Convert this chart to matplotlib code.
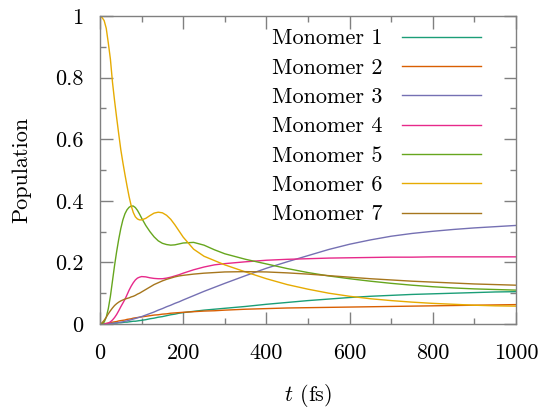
import matplotlib
matplotlib.use('Agg')
import matplotlib.pyplot as plt
from matplotlib.ticker import MultipleLocator

plt.rcParams['font.family'] = 'serif'
plt.rcParams['font.serif'] = ['cmr10']
plt.rcParams['mathtext.fontset'] = 'cm'
plt.rcParams['axes.formatter.use_mathtext'] = True

# time axis (fs)
t = [0, 5, 10, 15, 20, 25, 30, 35, 40, 45, 50, 55, 60, 65, 70, 75, 80, 85, 90, 95, 100,
     110, 120, 130, 140, 150, 160, 170, 180, 190, 200,
     225, 250, 275, 300,
     350, 400, 450, 500, 550, 600, 650, 700, 750, 800, 850, 900, 950, 1000]

m1 = [0, 0, 0, 0.001, 0.001, 0.002, 0.002, 0.003, 0.003, 0.004, 0.004, 0.005, 0.006,
      0.006, 0.007, 0.008, 0.009, 0.009, 0.010, 0.011, 0.012,
      0.014, 0.017, 0.019, 0.022, 0.024, 0.027, 0.030, 0.032, 0.035, 0.037,
      0.041, 0.045, 0.048, 0.051,
      0.057, 0.064, 0.070, 0.076, 0.081, 0.086, 0.090, 0.093, 0.096, 0.098, 0.100,
      0.102, 0.104, 0.105]
m2 = [0, 0, 0.001, 0.002, 0.003, 0.004, 0.006, 0.007, 0.008, 0.010, 0.011, 0.012, 0.013,
      0.015, 0.016, 0.017, 0.019, 0.020, 0.021, 0.022, 0.023,
      0.025, 0.027, 0.029, 0.030, 0.032, 0.033, 0.035, 0.036, 0.037, 0.038,
      0.040, 0.042, 0.043, 0.045,
      0.048, 0.050, 0.052, 0.053, 0.054, 0.055, 0.056, 0.057, 0.058, 0.059, 0.060,
      0.061, 0.062, 0.063]
m3 = [0, 0, 0, 0.001, 0.001, 0.002, 0.002, 0.003, 0.004, 0.005, 0.006, 0.007, 0.009,
      0.010, 0.012, 0.014, 0.016, 0.018, 0.020, 0.022, 0.024,
      0.029, 0.034, 0.039, 0.045, 0.050, 0.056, 0.061, 0.067, 0.072, 0.078,
      0.092, 0.106, 0.119, 0.132,
      0.157, 0.181, 0.202, 0.222, 0.242, 0.259, 0.273, 0.285, 0.294, 0.301, 0.307,
      0.312, 0.316, 0.320]
m4 = [0, 0, 0, 0.001, 0.003, 0.007, 0.013, 0.021, 0.031, 0.043, 0.056, 0.068, 0.080,
      0.095, 0.110, 0.123, 0.134, 0.143, 0.149, 0.152, 0.154,
      0.153, 0.150, 0.148, 0.147, 0.147, 0.149, 0.152, 0.156, 0.160, 0.165,
      0.176, 0.185, 0.192, 0.196,
      0.202, 0.207, 0.210, 0.212, 0.214, 0.215, 0.216, 0.217, 0.217, 0.218, 0.218,
      0.218, 0.218, 0.218]
m5 = [0, 0.001, 0.006, 0.022, 0.050, 0.090, 0.140, 0.190, 0.235, 0.275, 0.310, 0.338,
      0.358, 0.371, 0.379, 0.383, 0.383, 0.378, 0.369, 0.357, 0.344,
      0.320, 0.300, 0.283, 0.270, 0.262, 0.258, 0.256, 0.257, 0.260, 0.263,
      0.265, 0.256, 0.241, 0.228,
      0.210, 0.195, 0.180, 0.167, 0.156, 0.147, 0.139, 0.132, 0.126, 0.121, 0.117,
      0.114, 0.112, 0.110]
m6 = [1.0, 0.995, 0.985, 0.960, 0.912, 0.860, 0.785, 0.725, 0.670, 0.617, 0.566, 0.524,
      0.485, 0.448, 0.413, 0.384, 0.362, 0.348, 0.341, 0.338, 0.338,
      0.343, 0.352, 0.360, 0.363, 0.361, 0.353, 0.340, 0.322, 0.302, 0.282,
      0.243, 0.220, 0.206, 0.192,
      0.169, 0.147, 0.128, 0.113, 0.100, 0.090, 0.082, 0.076, 0.071, 0.067, 0.064,
      0.061, 0.059, 0.058]
m7 = [0, 0.004, 0.012, 0.022, 0.033, 0.043, 0.052, 0.060, 0.066, 0.071, 0.075, 0.078,
      0.081, 0.083, 0.085, 0.088, 0.090, 0.093, 0.097, 0.100, 0.104,
      0.112, 0.120, 0.128, 0.134, 0.140, 0.145, 0.149, 0.153, 0.156, 0.158,
      0.162, 0.165, 0.167, 0.169,
      0.170, 0.169, 0.166, 0.162, 0.157, 0.152, 0.147, 0.143, 0.139, 0.136, 0.133,
      0.130, 0.128, 0.126]

series = [m1, m2, m3, m4, m5, m6, m7]
labels = ['Monomer 1', 'Monomer 2', 'Monomer 3', 'Monomer 4',
          'Monomer 5', 'Monomer 6', 'Monomer 7']
colors = ['#1b9e77', '#d95f02', '#7570b3', '#e7298a', '#66a61e', '#e6ab02', '#a6761d']

yticks = [0, 0.2, 0.4, 0.6, 0.8, 1]
ytick_labels = ['0', '0.2', '0.4', '0.6', '0.8', '1']
xticks = [0, 200, 400, 600, 800, 1000]

fig = plt.figure(figsize=(5.46, 4.09), dpi=100)
fig.subplots_adjust(left=100/546, right=516/546, bottom=85/409, top=393/409)
ax = fig.add_subplot(111)

for s, lab, c in zip(series, labels, colors):
    ax.plot(t, s, color=c, lw=1.0, label=lab)

ax.set_xlim(0, 1000)
ax.set_ylim(0, 1)
ax.set_xticks(xticks)
ax.set_xticklabels([str(v) for v in xticks])
ax.set_yticks(yticks)
ax.set_yticklabels(ytick_labels)
ax.xaxis.set_minor_locator(MultipleLocator(100))
ax.yaxis.set_minor_locator(MultipleLocator(0.1))

grey = '#808080'
for sp in ax.spines.values():
    sp.set_color(grey)
    sp.set_linewidth(1.0)
ax.tick_params(which='both', direction='in', top=True, right=True, color=grey,
               labelsize=16)
ax.tick_params(which='major', length=9, width=1.0)
ax.tick_params(which='minor', length=4.5, width=1.0)
ax.tick_params(axis='y', pad=12)
ax.tick_params(axis='x', pad=14)

ax.set_xlabel('$t$ (fs)', fontsize=16, labelpad=14)
ax.set_ylabel('Population', fontsize=16, labelpad=17)

ax.legend(loc='upper right', bbox_to_anchor=(381/416, 0.958), frameon=False,
          markerfirst=False, fontsize=16, handlelength=3.57, handletextpad=0.87,
          labelspacing=0.44, borderpad=0, borderaxespad=0)

fig.savefig('out.png', dpi=100)
